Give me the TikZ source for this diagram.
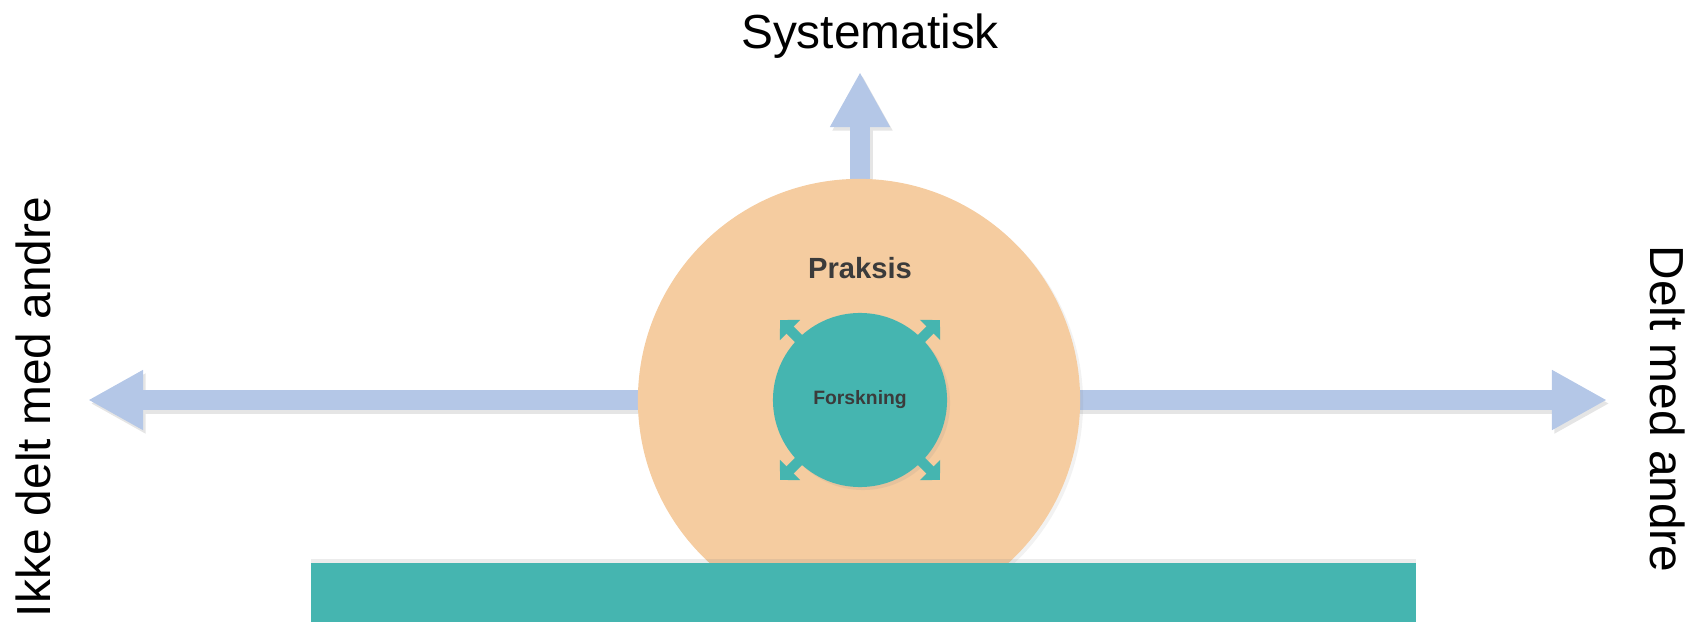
\documentclass[tikz,border=0pt]{standalone}
\usepackage{fontspec}
\setmainfont{Liberation Sans}
\usepackage{tikz}
\usetikzlibrary{arrows.meta}
\usetikzlibrary{shadows}

\definecolor{peach}{RGB}{245,204,160}
\definecolor{teal-ish}{RGB}{69,181,176}
\definecolor{axis-blue}{RGB}{180,199,231}
\definecolor{dark-text}{RGB}{59,59,59}

\begin{document}
\begin{tikzpicture}[x=0.01cm, y=0.01cm,
  axis/.style={line width=2mm, draw=axis-blue},
  axis-shadow/.style={line width=2mm, draw=black!10, transform canvas={shift={(0.25mm,-0.35mm)}}},
  axishead/.tip={Triangle[length=5.5mm, width=5.6mm]},
  smallhead/.tip={Triangle[length=1.4mm, width=2.8mm]},
  label/.style={font=\fontsize{13.6}{16}\selectfont, anchor=base}]
  \useasboundingbox (0,0) rectangle (1688,621);

  \coordinate (left-end) at (88,221);
  \coordinate (right-end) at (1607,221);
  \coordinate (up-end) at (860,549);

  % axes, with a light shadow first
  \draw[axis-shadow, axishead-axishead] (left-end) -- (right-end);
  \draw[axis-shadow, -axishead] (860,400) -- (up-end);
  \draw[axis, axishead-axishead] (left-end) -- (right-end);
  \draw[axis, -axishead] (860,400) -- (up-end);

  \node[circle, inner sep=0, minimum size=4.42cm, fill=peach,
        drop shadow={opacity=0.1, shadow xshift=0.3mm, shadow yshift=-0.3mm}] at (859,221) (praksis-circle) {};
  \node[font=\fontsize{8.3}{10}\selectfont\bfseries, text=dark-text, anchor=base] at (860,342) (praksis) {Praksis};

  \node[circle, inner sep=0, minimum size=1.74cm, fill=teal-ish,
        drop shadow={opacity=0.12, shadow xshift=0.3mm, shadow yshift=-0.3mm},
        font=\fontsize{5.5}{7}\selectfont\bfseries, text=dark-text] at (860,221) (forskning) {Forskning};

  \foreach \a in {45,135,225,315}
    \draw[line width=1mm, draw=teal-ish, smallhead-smallhead]
      ([shift={(\a:63)}]forskning.center) -- ([shift={(\a:113)}]forskning.center);

  \draw[fill=teal-ish, draw=none, drop shadow={opacity=0.15, shadow xshift=0mm, shadow yshift=0.4mm}]
    (311,-20) rectangle (1416,58) node [midway] (base) {};

  \node[label] at (870,572) (systematisk) {Systematisk};
  \node[label, rotate=-90] at (1650,212) (delt) {Delt med andre};
  \node[label, rotate=90] at (50,214) (ikke-delt) {Ikke delt med andre};
\end{tikzpicture}
\end{document}
